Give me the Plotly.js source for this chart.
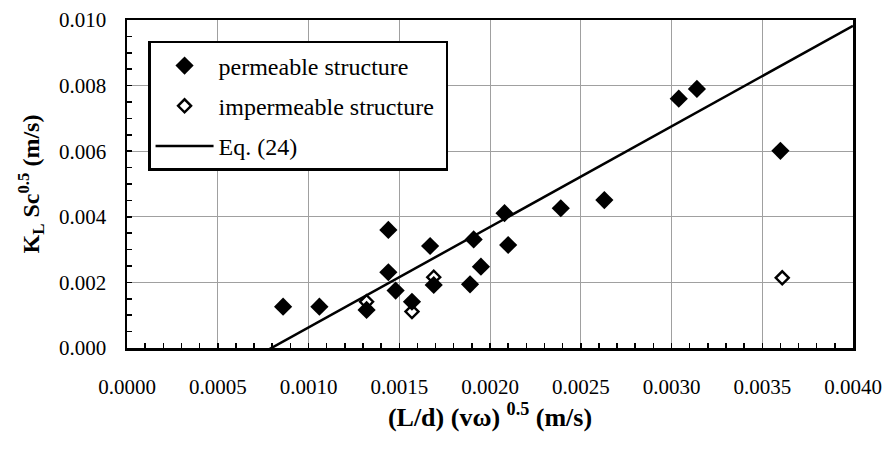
<!DOCTYPE html>
<html>
<head>
<meta charset="utf-8">
<script src="https://cdn.plot.ly/plotly-3.0.1.min.js"></script>
<style>html,body{margin:0;padding:0;background:#fff;}#chart{width:887px;height:449px;}</style>
</head>
<body>
<div id="chart"></div>
<script>
// Permeable structure (filled diamonds)
const permX = [0.00086, 0.00106, 0.00132, 0.00144, 0.00144, 0.00148, 0.00157, 0.00167, 0.00169, 0.00189, 0.00191, 0.00195, 0.00208, 0.00210, 0.00239, 0.00263, 0.00304, 0.00314, 0.00360];
const permY = [0.00126, 0.00126, 0.00116, 0.00360, 0.00231, 0.00175, 0.00141, 0.00311, 0.00192, 0.00194, 0.00331, 0.00248, 0.00411, 0.00314, 0.00426, 0.00451, 0.00760, 0.00790, 0.00601];
// Impermeable structure (open diamonds)
const impX = [0.00132, 0.00157, 0.00169, 0.00361];
const impY = [0.00141, 0.00111, 0.00216, 0.00214];
// Eq. (24)
const eqX = [0.00075, 0.0040];
const eqY = [-0.00014, 0.00982];

const xTicks = [0, 0.0005, 0.0010, 0.0015, 0.0020, 0.0025, 0.0030, 0.0035, 0.0040];
const xTickText = ['0.0000','0.0005','0.0010','0.0015','0.0020','0.0025','0.0030','0.0035','0.0040'];
const yTicks = [0, 0.002, 0.004, 0.006, 0.008, 0.010];
const yTickText = ['0.000','0.002','0.004','0.006','0.008','0.010'];

const serif = 'Liberation Serif';

const traces = [
  {x: permX, y: permY, type: 'scatter', mode: 'markers', name: 'permeable structure', legendgroup: 'a',
   marker: {symbol: 'diamond', size: 14, color: '#000'}},
  {x: impX, y: impY, type: 'scatter', mode: 'markers', name: 'impermeable structure\u00a0', legendgroup: 'b',
   marker: {symbol: 'diamond-open', size: 10, color: '#000', line: {width: 2.4, color: '#000'}}},
  {x: eqX, y: eqY, type: 'scatter', mode: 'lines', name: 'Eq. (24)', legendgroup: 'c',
   line: {color: '#000', width: 2.5}}
];

const layout = {
  width: 887, height: 449,
  margin: {l: 127, r: 34, t: 20, b: 101},
  paper_bgcolor: '#fff', plot_bgcolor: '#fff',
  font: {family: serif, size: 21, color: '#000'},
  showlegend: true,
  legend: {x: 0.029, y: 0.936, xanchor: 'left', yanchor: 'top',
    bgcolor: '#fff', bordercolor: '#000', borderwidth: 2.5,
    font: {family: serif, size: 24, color: '#000'},
    tracegroupgap: 6, itemwidth: 58, traceorder: 'grouped'},
  xaxis: {
    range: [0, 0.004], tickvals: xTicks, ticktext: xTickText,
    showline: true, linecolor: '#000', linewidth: 2.5, mirror: true,
    ticks: 'inside', ticklen: 5, tickwidth: 1.5, tickcolor: '#000',
    minor: {dtick: 0.0001, ticks: 'inside', ticklen: 5, tickwidth: 1.5, tickcolor: '#000', showgrid: false},
    showgrid: true, gridcolor: '#a0a0a0', gridwidth: 1,
    zeroline: false, ticklabelstandoff: 18,
    tickfont: {family: serif, size: 21, color: '#000'},
    title: {text: '<b>(L/d) (vω)\u00a0<sup>0.5</sup> (m/s)</b>', font: {family: serif, size: 26, color: '#000'}, standoff: 0}
  },
  yaxis: {
    range: [0, 0.010], tickvals: yTicks, ticktext: yTickText,
    showline: true, linecolor: '#000', linewidth: 2.5, mirror: true,
    ticks: 'inside', ticklen: 5, tickwidth: 1.5, tickcolor: '#000',
    minor: {dtick: 0.0005, ticks: 'inside', ticklen: 5, tickwidth: 1.5, tickcolor: '#000', showgrid: false},
    showgrid: true, gridcolor: '#a0a0a0', gridwidth: 1,
    zeroline: false, ticklabelstandoff: 14,
    tickfont: {family: serif, size: 21, color: '#000'},
    title: {text: '<b>K<sub>L</sub> Sc<sup>0.5</sup> (m/s)</b>', font: {family: serif, size: 24, color: '#000'}, standoff: 13}
  }
};

Plotly.newPlot('chart', traces, layout, {displayModeBar: false, staticPlot: true});
</script>
</body>
</html>
